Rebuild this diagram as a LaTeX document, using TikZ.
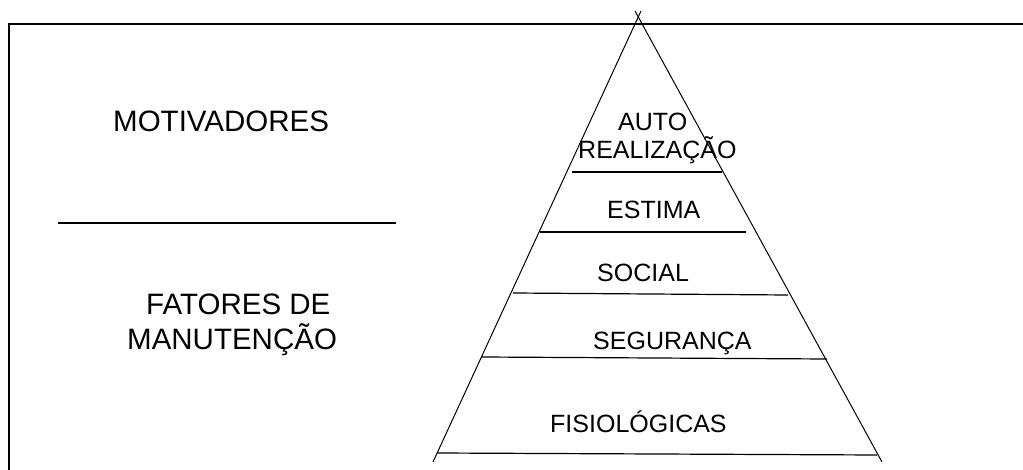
\documentclass[tikz,border=0pt]{standalone}
\usepackage{fontspec}
\setmainfont{Liberation Sans}
\tikzset{big/.style={anchor=base west,inner sep=0pt,font=\fontsize{29.5}{34}\selectfont},
 level/.style={anchor=base west,inner sep=0pt,font=\fontsize{25}{30}\selectfont}}
\begin{document}
\begin{tikzpicture}[x=1pt,y=-1pt]
%\draw [help lines] (0,0) grid (1023,470);
\useasboundingbox (0,0) rectangle (1023,470);
\draw [line width=1.6pt] (1023,24)--(9,24)--(9,470);
% pyramid
\draw [line width=1pt] (641,11)--(433,462);
\draw [line width=1pt] (635,11)--(882,462);
\draw [line width=1.2pt] (572,172)--(722,172);
\draw [line width=1.2pt] (540,232)--(746,232);
\draw [line width=1.2pt] (513,293)--(788,295);
\draw [line width=1.2pt] (482,357)--(827,359);
\draw [line width=1.2pt] (437,453)--(877,455);
\node [level] (auto) at (618,131) {AUTO};
\node [level] (real) at (578,159) {REALIZAÇÃO};
\node [level] (estima) at (607,219) {ESTIMA};
\node [level] (social) at (597,282) {SOCIAL};
\node [level] (segur) at (593,350) {SEGURANÇA};
\node [level] (fisio) at (550,432) {FISIOLÓGICAS};
% left side
\node [big] (motiv) at (113,132) {MOTIVADORES};
\draw [line width=1.2pt] (58,223)--(396,223);
\node [big] (fatores) at (146,315) {FATORES DE};
\node [big] (manut) at (127,350) {MANUTENÇÃO};
\end{tikzpicture}
\end{document}
